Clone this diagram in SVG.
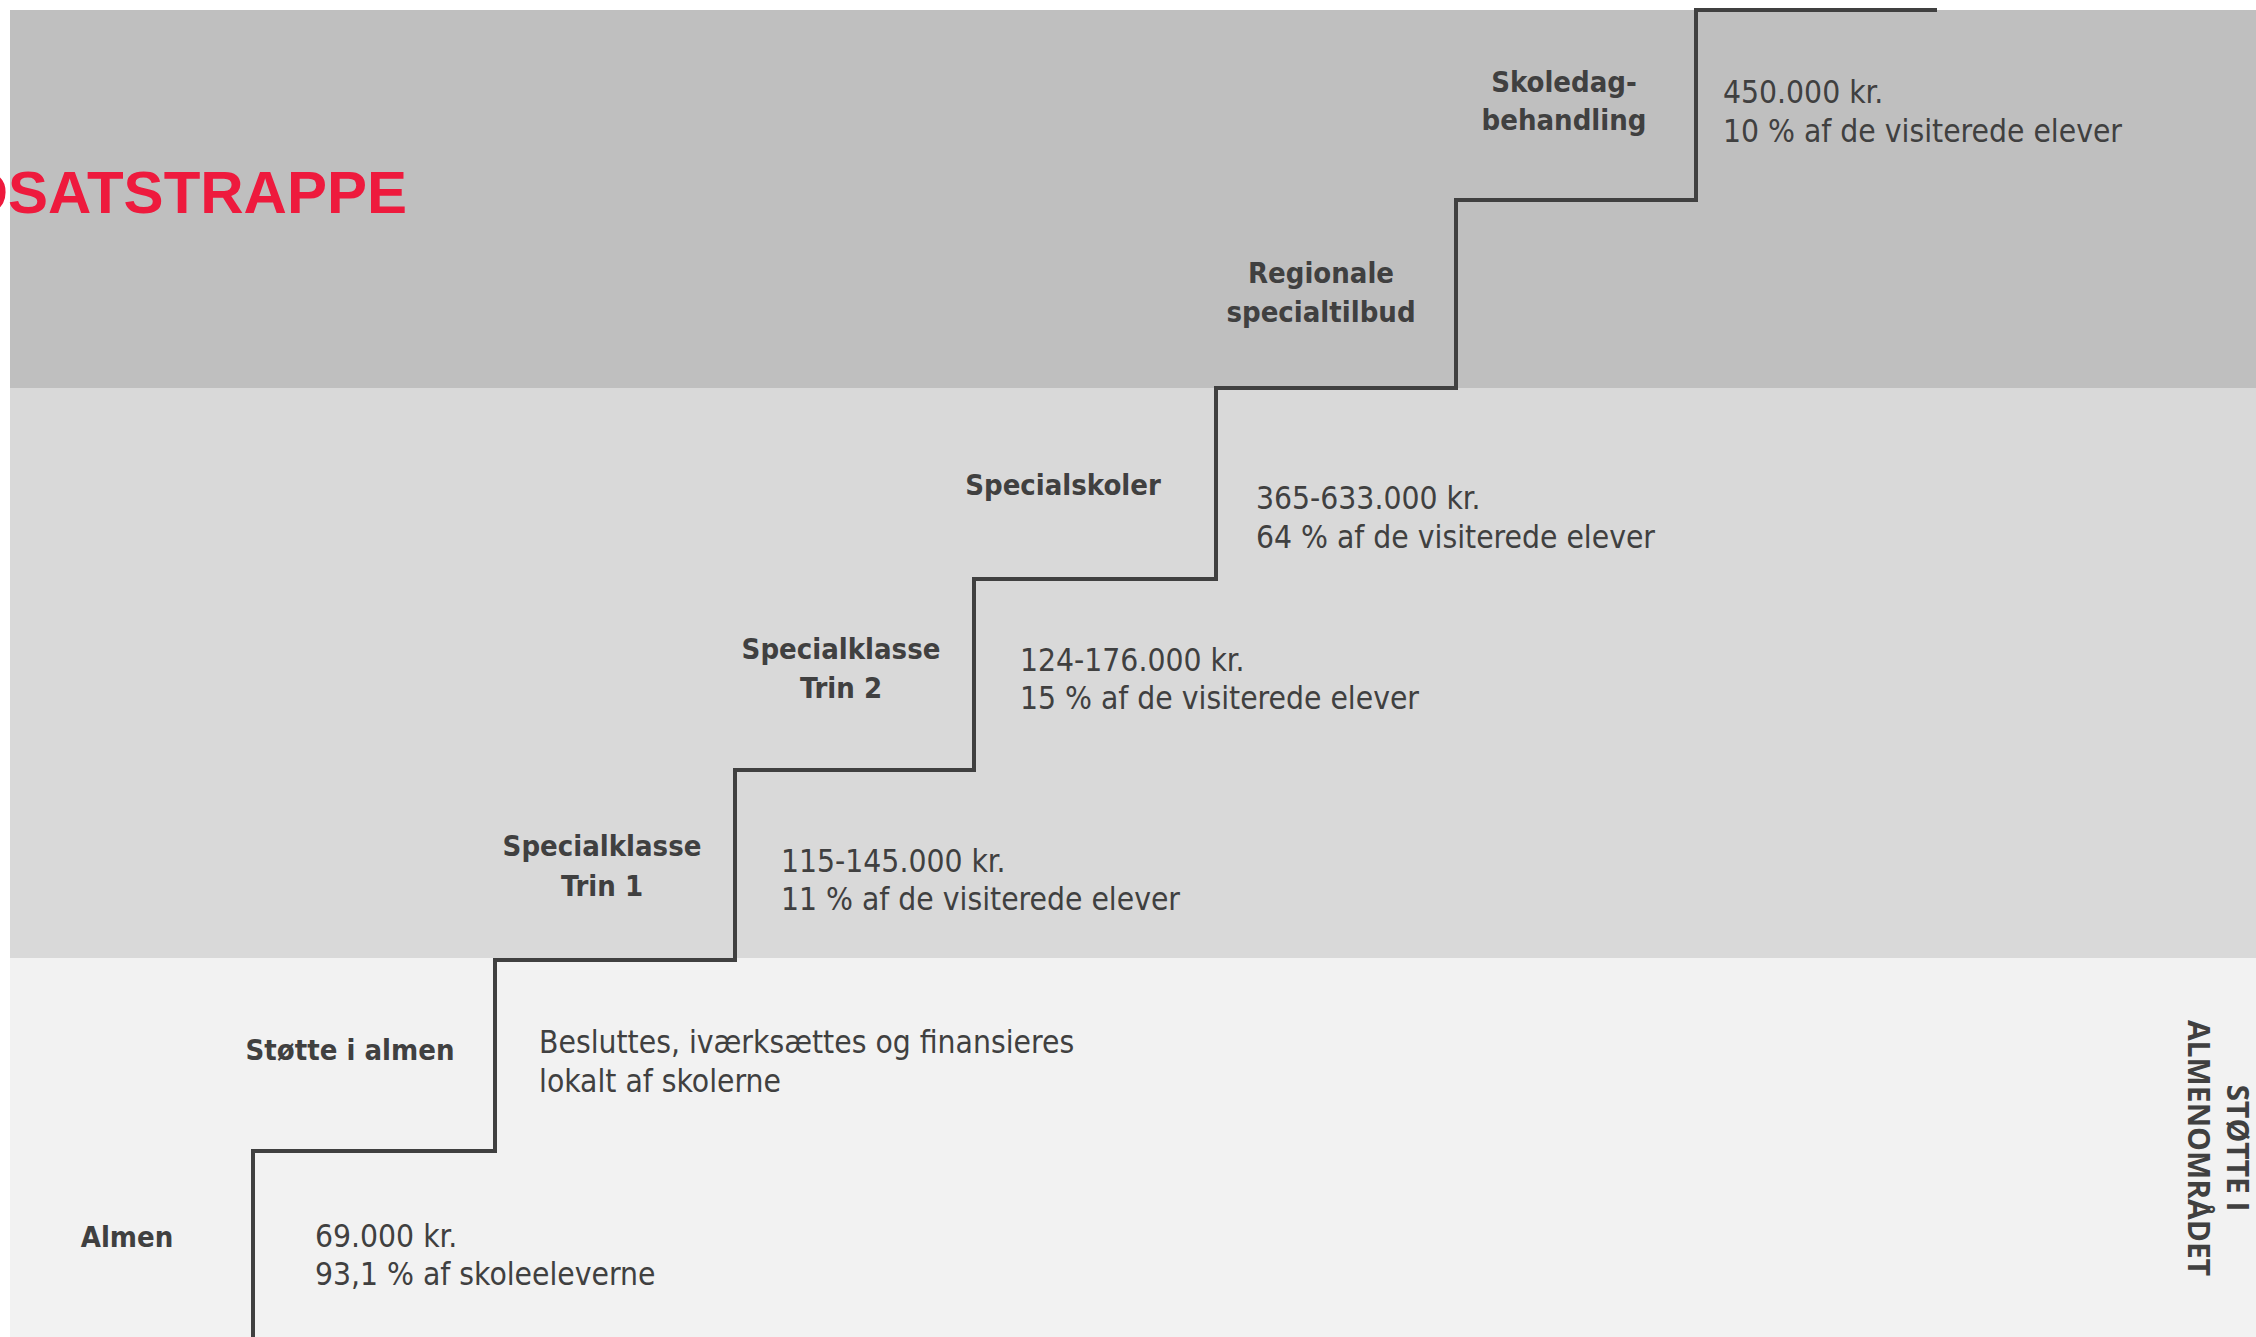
<svg xmlns="http://www.w3.org/2000/svg" width="2256" height="1337" viewBox="0 0 2256 1337">
<style>
.lbl{font-family:"DejaVu Sans Condensed","DejaVu Sans",sans-serif;font-stretch:condensed;font-weight:bold;font-size:29px;fill:#404040;text-anchor:middle}
.txt{font-family:"DejaVu Sans Condensed","DejaVu Sans",sans-serif;font-stretch:condensed;font-size:31.5px;fill:#404040}
.title{font-family:"Liberation Sans",sans-serif;font-weight:bold;font-size:60px;fill:#EE1A3D;text-anchor:end}
.side{font-family:"Open Sans",sans-serif;font-weight:bold;font-size:30px;fill:#404040;text-anchor:middle}
.stair{fill:none;stroke:#404040;stroke-width:4;stroke-linejoin:miter}
</style>
<rect x="0" y="0" width="2256" height="1337" fill="#FFFFFF"/>
<g id="bands">
<rect x="10" y="10" width="2246" height="378" fill="#BFBFBF"/>
<rect x="10" y="388" width="2246" height="570" fill="#D9D9D9"/>
<rect x="10" y="958" width="2246" height="379" fill="#F2F2F2"/>
</g>
<text class="title" x="407" y="213">DSATSTRAPPE</text>
<g id="connectors">
<path class="stair" d="M253,1337 V1151 H495 V960 H735 V770 H974 V579 H1216 V388 H1456 V200 H1696 V10 H1937"/>
</g>
<g id="almen">
<text class="lbl" x="127" y="1247">Almen</text>
<text class="txt" x="315" y="1247">69.000 kr.</text>
<text class="txt" x="315" y="1285">93,1 % af skoleeleverne</text>
</g>
<g id="stotte-i-almen">
<text class="lbl" x="350" y="1060">Støtte i almen</text>
<text class="txt" x="539" y="1053">Besluttes, iværksættes og finansieres</text>
<text class="txt" x="539" y="1092">lokalt af skolerne</text>
</g>
<g id="specialklasse-trin1">
<text class="lbl" x="602" y="856">Specialklasse</text>
<text class="lbl" x="602" y="896">Trin 1</text>
<text class="txt" x="781" y="872">115-145.000 kr.</text>
<text class="txt" x="781" y="910">11 % af de visiterede elever</text>
</g>
<g id="specialklasse-trin2">
<text class="lbl" x="841" y="659">Specialklasse</text>
<text class="lbl" x="841" y="698">Trin 2</text>
<text class="txt" x="1020" y="671">124-176.000 kr.</text>
<text class="txt" x="1020" y="709">15 % af de visiterede elever</text>
</g>
<g id="specialskoler">
<text class="lbl" x="1063" y="495">Specialskoler</text>
<text class="txt" x="1256" y="509">365-633.000 kr.</text>
<text class="txt" x="1256" y="548">64 % af de visiterede elever</text>
</g>
<g id="regionale">
<text class="lbl" x="1321" y="283">Regionale</text>
<text class="lbl" x="1321" y="322">specialtilbud</text>
</g>
<g id="skoledagbehandling">
<text class="lbl" x="1564" y="92">Skoledag-</text>
<text class="lbl" x="1564" y="130">behandling</text>
<text class="txt" x="1723" y="103">450.000 kr.</text>
<text class="txt" x="1723" y="142">10 % af de visiterede elever</text>
</g>
<g id="side-label" transform="translate(2227,1148) rotate(90)">
<text class="side" x="0" y="0">STØTTE I</text>
<text class="side" x="0" y="39">ALMENOMRÅDET</text>
</g>
</svg>
